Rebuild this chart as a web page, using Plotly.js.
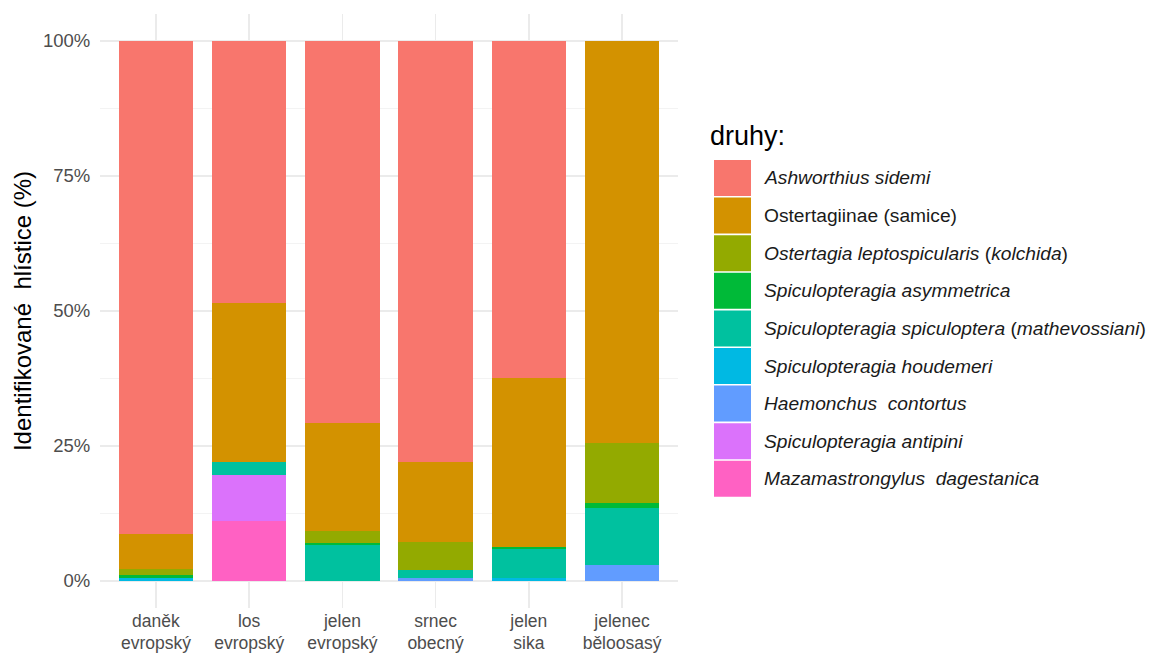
<!DOCTYPE html>
<html>
<head>
<meta charset="utf-8">
<script src="https://cdn.plot.ly/plotly-3.0.1.min.js"></script>
<style>html,body{margin:0;padding:0;background:#fff;}#chart{width:1149px;height:657px;}</style>
</head>
<body>
<div id="chart"></div>
<script>
// ---- data ----
var hosts = ["daněk<br>evropský", "los<br>evropský", "jelen<br>evropský", "srnec<br>obecný", "jelen<br>sika", "jelenec<br>běloosasý"];

var speciesNames = [
  "<i>Ashworthius sidemi</i>",
  "Ostertagiinae (samice)",
  "<i>Ostertagia leptospicularis</i> (<i>kolchida</i>)",
  "<i>Spiculopteragia asymmetrica</i>",
  "<i>Spiculopteragia spiculoptera</i> (<i>mathevossiani</i>)",
  "<i>Spiculopteragia houdemeri</i>",
  "<i>Haemonchus  contortus</i>",
  "<i>Spiculopteragia antipini</i>",
  "<i>Mazamastrongylus  dagestanica</i>"
];

var ashworthius      = [91.3, 48.6, 70.7, 78.0, 62.4, 0];
var ostertagiinae    = [6.4, 29.3, 20.0, 14.8, 31.3, 74.4];
var leptospicularis  = [1.1, 0, 2.3, 5.1, 0, 11.2];
var asymmetrica      = [0.7, 0, 0.4, 0, 0.4, 0.9];
var spiculoptera     = [0, 2.4, 6.6, 1.5, 5.3, 10.6];
var houdemeri        = [0.5, 0, 0, 0, 0.6, 0];
var haemonchus       = [0, 0, 0, 0.6, 0, 2.9];
var antipini         = [0, 8.5, 0, 0, 0, 0];
var mazamastrongylus = [0, 11.2, 0, 0, 0, 0];

var seriesValues = [ashworthius, ostertagiinae, leptospicularis, asymmetrica, spiculoptera, houdemeri, haemonchus, antipini, mazamastrongylus];

var colors = ["#F8766D", "#D39200", "#93AA00", "#00BA38", "#00C19F", "#00B9E3", "#619CFF", "#DB72FB", "#FF61C3"];

var yTickVals = [0, 25, 50, 75, 100];
var yTickText = ["0%", "25%", "50%", "75%", "100%"];

// ---- figure ----
var W = 1149, H = 657;
var margin = {l: 100, r: 471, t: 14, b: 49};
var plotW = W - margin.l - margin.r, plotH = H - margin.t - margin.b;
function px2x(px) { return (px - margin.l) / plotW; }
function px2y(py) { return (H - margin.b - py) / plotH; }

var traces = [];
// bottom of stack first (ggplot puts first level on top)
for (var i = seriesValues.length - 1; i >= 0; i--) {
  traces.push({
    type: "bar",
    x: hosts,
    y: seriesValues[i],
    name: speciesNames[i],
    width: 0.8,
    marker: {color: colors[i], line: {width: 0}},
    showlegend: false,
    hoverinfo: "skip"
  });
}

// custom legend (large swatches like ggplot)
var shapes = [], annotations = [];
var legTop = 160, legPitch = 37.6, swH = 36;
for (var k = 0; k < speciesNames.length; k++) {
  var rowTop = legTop + k * legPitch;
  shapes.push({
    type: "rect", xref: "paper", yref: "paper",
    x0: px2x(714), x1: px2x(751), y0: px2y(rowTop + swH), y1: px2y(rowTop),
    fillcolor: colors[k], line: {width: 0}
  });
  annotations.push({
    xref: "paper", yref: "paper", x: px2x(762), y: px2y(rowTop + swH / 2),
    xanchor: "left", yanchor: "middle", showarrow: false,
    text: speciesNames[k],
    font: {size: 19.2, color: "#1a1a1a", family: "Liberation Sans, Arial, sans-serif"}
  });
}
annotations.push({
  xref: "paper", yref: "paper", x: px2x(708), y: px2y(136),
  xanchor: "left", yanchor: "middle", showarrow: false,
  text: "druhy:",
  font: {size: 27, color: "#000", family: "Liberation Sans, Arial, sans-serif"}
});

var layout = {
  width: W, height: H,
  margin: margin,
  barmode: "stack",
  paper_bgcolor: "#fff",
  plot_bgcolor: "#fff",
  font: {family: "Liberation Sans, Arial, sans-serif", color: "#4D4D4D"},
  showlegend: false,
  bargap: 0,
  xaxis: {
    type: "category",
    range: [-0.6, 5.6],
    showgrid: true, gridcolor: "#EBEBEB", gridwidth: 1.5,
    zeroline: false, showline: false,
    ticks: "",
    tickfont: {size: 17.5, color: "#4D4D4D"}
  },
  yaxis: {
    range: [-5, 105],
    tickvals: yTickVals, ticktext: yTickText,
    showgrid: true, gridcolor: "#EBEBEB", gridwidth: 1.5,
    minor: {dtick: 12.5, tick0: 0, showgrid: true, gridcolor: "#F3F3F3", gridwidth: 1},
    zeroline: false, showline: false,
    ticks: "outside", ticklen: 5, tickcolor: "rgba(0,0,0,0)",
    tickfont: {size: 18.5, color: "#4D4D4D"},
    title: {text: "Identifikované  hlístice (%)", font: {size: 24, color: "#000"}, standoff: 4}
  },
  shapes: shapes,
  annotations: annotations
};

Plotly.newPlot("chart", traces, layout, {displayModeBar: false, staticPlot: true});
</script>
</body>
</html>
